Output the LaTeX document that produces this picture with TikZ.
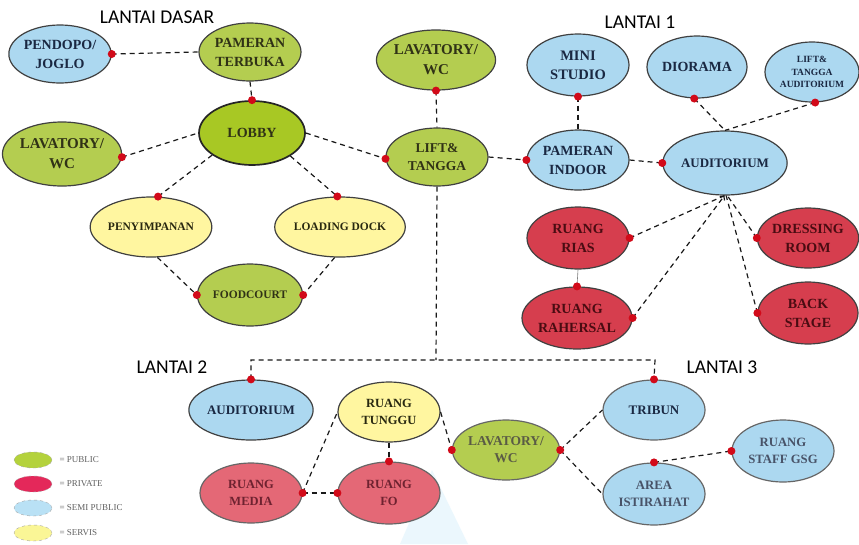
\documentclass[tikz,border=0pt]{standalone}
\usepackage{fontspec}
\setmainfont{Liberation Serif}
\newfontfamily\titlefont{Carlito}
\usetikzlibrary{shapes.geometric,arrows.meta}
\definecolor{gpub}{RGB}{180,205,80}
\definecolor{glob}{RGB}{168,200,36}
\definecolor{bsemi}{RGB}{172,216,240}
\definecolor{rpriv}{RGB}{214,62,78}
\definecolor{ppriv}{RGB}{228,104,118}
\definecolor{yserv}{RGB}{255,246,160}
\definecolor{dotred}{RGB}{210,10,25}
\definecolor{edgec}{RGB}{64,64,64}
\definecolor{tg}{RGB}{48,50,22}
\definecolor{tb}{RGB}{26,40,66}
\definecolor{tr}{RGB}{74,12,18}
\definecolor{tp}{RGB}{110,34,48}
\definecolor{ty}{RGB}{40,40,16}
\definecolor{lgg}{RGB}{180,210,60}
\definecolor{lgr}{RGB}{228,40,90}
\definecolor{lgb}{RGB}{185,225,245}
\definecolor{lgy}{RGB}{250,246,150}
\definecolor{wm}{RGB}{222,243,252}
\tikzset{
  rm/.style 2 args={ellipse, draw=edgec, line width=1.2pt, inner sep=0pt, align=center,
    minimum width=#1, minimum height=#2},
  fs/.style 2 args={font=\fontsize{#1}{#2}\selectfont\bfseries},
  pub/.style={fill=gpub, text=tg},
  semi/.style={fill=bsemi, text=tb},
  priv/.style={fill=rpriv, text=tr},
  privb/.style={fill=ppriv, text=tp},
  serv/.style={fill=yserv, text=ty},
  link/.style={dash pattern=on 5pt off 4pt, line width=1.2pt, black!90},
  ttl/.style={font=\titlefont\fontsize{19.5}{21}\selectfont, text=black},
  lgd/.style={ellipse, draw=gray!70, dashed, line width=0.4pt, inner sep=0pt,
    minimum width=38, minimum height=16},
  lgt/.style={anchor=west, text=gray!75!black, font=\fontsize{9}{11}\selectfont},
}
\newcommand{\rdot}[1]{\fill[dotred] (#1) circle (4pt);}
\begin{document}
\begin{tikzpicture}[x=1pt,y=-1pt]
\useasboundingbox (0,0) rectangle (859,544);
\fill[white] (0,0) rectangle (859,544);
% faint watermark shape
\fill[wm, opacity=0.6] (432,470) -- (468,544) -- (400,544) -- cycle;

% titles
\node[ttl] (t0) at (157,17) {LANTAI DASAR};
\node[ttl] (t1) at (640,22) {LANTAI 1};
\node[ttl] (t2) at (172,367) {LANTAI 2};
\node[ttl] (t3) at (722,367) {LANTAI 3};

% LANTAI DASAR
\node[rm={100}{58}, semi, fs={14}{19}] (pend) at (60,54) {PENDOPO/\\JOGLO};
\node[rm={102}{58}, pub, fs={14}{19}] (pt) at (250,52) {PAMERAN\\TERBUKA};
\node[rm={106}{64}, fill=glob, text=tg, draw=black!85, line width=1.7pt, fs={14}{19}] (lobby) at (252,133) {LOBBY};
\node[rm={100}{64}, pub, fs={15}{20}] (lav0) at (62,154) {LAVATORY/\\WC};
\node[rm={102}{60}, serv, fs={11.5}{14}] (peny) at (151,227) {PENYIMPANAN};
\node[rm={100}{60}, serv, fs={11.5}{14}] (load) at (340,227) {LOADING DOCK};
\node[rm={102}{62}, pub, fs={11.5}{14}] (food) at (250,295) {FOODCOURT};
\node[rm={102}{60}, pub, fs={15}{20}] (lav1) at (436,60) {LAVATORY/\\WC};
\node[rm={102}{58}, pub, fs={13.5}{18}] (lift) at (437,157) {LIFT\&\\TANGGA};

% LANTAI 1
\node[rm={102}{62}, semi, fs={14.5}{19}] (ms) at (578,65) {MINI\\STUDIO};
\node[rm={100}{62}, semi, fs={14}{19}] (dio) at (697,67) {DIORAMA};
\node[rm={94}{60}, semi, fs={9.5}{12.5}] (lta) at (812,72) {LIFT\&\\TANGGA\\AUDITORIUM};
\node[rm={102}{60}, semi, fs={14}{19}] (pi) at (578,160) {PAMERAN\\INDOOR};
\node[rm={104}{64}, semi, fs={13}{17}] (aud1) at (725,163) {AUDITORIUM};
\node[rm={102}{62}, priv, fs={14}{19}] (rias) at (578,238) {RUANG\\RIAS};
\node[rm={102}{62}, priv, fs={14}{19}] (rah) at (577,318) {RUANG\\RAHERSAL};
\node[rm={100}{60}, priv, fs={14}{19}] (dress) at (808,238) {DRESSING\\ROOM};
\node[rm={100}{62}, priv, fs={14}{19}] (back) at (808,313) {BACK\\STAGE};

% LANTAI 2
\node[rm={102}{60}, semi, fs={13}{17}] (aud2) at (251,410) {AUDITORIUM};
\node[rm={102}{60}, serv, fs={12.5}{17}] (tung) at (389,412) {RUANG\\TUNGGU};
\node[rm={102}{60}, privb, draw=edgec!80, fs={12.5}{17}] (media) at (251,493) {RUANG\\MEDIA};
\node[rm={102}{62}, privb, draw=edgec!80, fs={12.5}{17}] (fo) at (389,493) {RUANG\\FO};

% LANTAI 3
\node[rm={102}{60}, pub, draw=edgec!80, text=tg!80, fs={13.5}{17}] (lav3) at (506,450) {LAVATORY/\\WC};
\node[rm={102}{60}, semi, draw=edgec!80, fs={13}{17}] (trib) at (654,410) {TRIBUN};
\node[rm={102}{62}, semi, draw=edgec!80, text=tb!80, fs={12.8}{17}] (ist) at (654,494) {AREA\\ISTIRAHAT};
\node[rm={102}{62}, semi, draw=edgec!80, text=tb!80, fs={12.7}{17}] (staff) at (783,451) {RUANG\\STAFF GSG};

% legend
\node[lgd, fill=lgg] (lg1) at (33,460) {};
\node[lgd, fill=lgr] (lg2) at (33,484) {};
\node[lgd, fill=lgb] (lg3) at (33,508) {};
\node[lgd, fill=lgy] (lg4) at (33,533) {};
\node[lgt] (lt1) at (56,460) {= PUBLIC};
\node[lgt] (lt2) at (56,484) {= PRIVATE};
\node[lgt] (lt3) at (56,508) {= SEMI PUBLIC};
\node[lgt] (lt4) at (56,533) {= SERVIS};

% connectors: Lantai Dasar
\draw[link] (pend.east) -- (pt.west);
\draw[link] (pt.south) -- (lobby.north);
\draw[link] (lav0.-3) -- (lobby.west);
\draw[link] (lobby.209) -- (peny.77);
\draw[link] (lobby.-31) -- (load.95);
\draw[link] (peny.-78) -- (food.west);
\draw[link] (load.-100) -- (food.east);
\draw[link] (lobby.east) -- (lift.182);
\draw[link] (lav1.south) -- (lift.north);

% Lantai 1
\draw[link] (lift.east) -- (pi.west);
\draw[link] (ms.south) -- (pi.north);
\draw[link] (pi.east) -- (aud1.west);
\draw[link] (dio.-95) -- (aud1.north);
\draw[link] (lta.-84) -- (aud1.north);
\draw[link] (rias.east) -- (aud1.-91);
\draw[link, -{Straight Barb[length=3pt,width=6pt]}] (rah.east) -- (aud1.-91);
\draw[link] (dress.west) -- (aud1.-86);
\draw[link] (back.west) -- (aud1.-88);
\draw[gray, line width=0.6pt] (rias.south) -- (rah.north);

% vertical link to Lantai 2 / 3
\coordinate (jL) at (251,360);
\coordinate (jR) at (655,360);
\coordinate (jM) at (436,360);
\draw[link] (lift.south) -- (jM);
\draw[link] (aud2.north) -- (jL) -- (jR) -- (trib.north);

% Lantai 2
\draw[link] (media.east) -- (tung.west);
\draw[link] (media.east) -- (fo.west);
\draw[link] (tung.south) -- (fo.north);
\draw[link] (tung.east) -- (lav3.west);

% Lantai 3
\draw[link] (lav3.east) -- (trib.west);
\draw[link] (lav3.east) -- (ist.west);
\draw[link] (ist.north) -- (staff.west);

% red dots
\rdot{pend.east}
\rdot{lobby.north}
\rdot{lav0.-3}
\rdot{peny.77}
\rdot{load.95}
\rdot{food.west}
\rdot{food.east}
\rdot{lift.182}
\rdot{lav1.south}
\rdot{pi.west}
\rdot{ms.south}
\rdot{aud1.west}
\rdot{dio.-95}
\rdot{lta.-84}
\rdot{rias.east}
\rdot{rah.east}
\rdot{rah.north}
\rdot{dress.west}
\rdot{back.west}
\rdot{aud2.north}
\rdot{media.east}
\rdot{fo.west}
\rdot{fo.north}
\rdot{lav3.west}
\rdot{lav3.east}
\rdot{trib.north}
\rdot{ist.north}
\rdot{staff.west}
\end{tikzpicture}
\end{document}
